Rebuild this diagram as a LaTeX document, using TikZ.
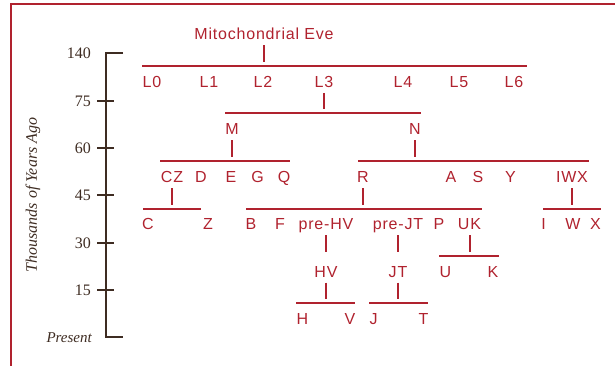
\documentclass[tikz,border=0pt]{standalone}
\usepackage{fontspec}
\usepackage{tikz}
\newfontfamily\labfont[LetterSpace=5]{Liberation Sans}
\newfontfamily\axfont{Liberation Serif}
\definecolor{evered}{RGB}{176,34,46}
\definecolor{axbrown}{RGB}{62,44,34}
\tikzset{%
    lab/.style={text=evered,inner sep=0pt,anchor=base,font=\labfont\fontsize{16}{16}\selectfont}
}

\begin{document}
\begin{tikzpicture}[
        x=1pt,y=-1pt,
        bar/.style={draw=evered,line width=2pt},
        tick/.style={draw=evered,line width=2pt,shorten <=5.5pt,shorten >=4pt},
        ax/.style={draw=axbrown,line width=1.4pt},
        num/.style={text=axbrown,inner sep=0pt,anchor=east,font=\axfont\fontsize{16}{16}\selectfont}
        ]
        \useasboundingbox (0,0) rectangle (615,366);
        \draw[evered,line width=2.5pt] (615,4) -- (11,4) -- (11,366);

        \draw[ax] (123,53) -- (106,53) -- (106,337) -- (123,337);
        \draw[ax] (97,101) -- (114,101);
        \draw[ax] (97,148) -- (114,148);
        \draw[ax] (97,195) -- (114,195);
        \draw[ax] (97,243) -- (114,243);
        \draw[ax] (97,290) -- (114,290);
        \node[num] (t140) at (91,53) {140};
        \node[num] (t75) at (91,101) {75};
        \node[num] (t60) at (91,148) {60};
        \node[num] (t45) at (91,195) {45};
        \node[num] (t30) at (91,243) {30};
        \node[num] (t15) at (91,290) {15};
        \node[num,font=\axfont\itshape\fontsize{15}{15}\selectfont] (tnow) at (92,338) {Present};
        \node[text=axbrown,rotate=90,font=\axfont\itshape\fontsize{16}{16}\selectfont] (ytitle) at (33,195) {Thousands of Years Ago};

        \node[lab] (Eve) at (264,40) {Mitochondrial Eve};
        \node[lab] (L0) at (152,87.5) {L0};
        \node[lab] (L1) at (209,87.5) {L1};
        \node[lab] (L2) at (263,87.5) {L2};
        \node[lab] (L3) at (324,87.5) {L3};
        \node[lab] (L4) at (403,87.5) {L4};
        \node[lab] (L5) at (459,87.5) {L5};
        \node[lab] (L6) at (514,87.5) {L6};

        \node[lab] (M) at (232,135) {M};
        \node[lab] (N) at (415,135) {N};

        \node[lab] (CZ) at (172,182.5) {CZ};
        \node[lab] (D) at (201,182.5) {D};
        \node[lab] (E) at (231,182.5) {E};
        \node[lab] (G) at (257.5,182.5) {G};
        \node[lab] (Q) at (284,182.5) {Q};
        \node[lab] (R) at (363,182.5) {R};
        \node[lab] (A) at (451,182.5) {A};
        \node[lab] (S) at (478,182.5) {S};
        \node[lab] (Y) at (510.5,182.5) {Y};
        \node[lab] (IWX) at (572,182.5) {IWX};

        \node[lab] (C) at (148,229.5) {C};
        \node[lab] (Z) at (208,229.5) {Z};
        \node[lab] (B) at (251,229.5) {B};
        \node[lab] (F) at (280,229.5) {F};
        \node[lab] (preHV) at (326,229.5) {pre-HV};
        \node[lab] (preJT) at (398,229.5) {pre-JT};
        \node[lab] (P) at (439,229.5) {P};
        \node[lab] (UK) at (469.5,229.5) {UK};
        \node[lab] (I) at (543.5,229.5) {I};
        \node[lab] (W) at (573,229.5) {W};
        \node[lab] (X) at (595.5,229.5) {X};

        \node[lab] (HV) at (326,277) {HV};
        \node[lab] (JT) at (398,277) {JT};
        \node[lab] (U) at (445.5,277) {U};
        \node[lab] (K) at (493,277) {K};

        \node[lab] (H) at (302.5,324) {H};
        \node[lab] (V) at (350,324) {V};
        \node[lab] (J) at (373.5,324) {J};
        \node[lab] (T) at (423.5,324) {T};

        \coordinate (b1w) at (142,66);
        \coordinate (b1e) at (527,66);
        \coordinate (b2w) at (225,113);
        \coordinate (b2e) at (421,113);
        \coordinate (b3w) at (160,161);
        \coordinate (b3e) at (290,161);
        \coordinate (b4w) at (358,161);
        \coordinate (b4e) at (589,161);
        \coordinate (b5w) at (143,208.5);
        \coordinate (b5e) at (201,208.5);
        \coordinate (b6w) at (246,208.5);
        \coordinate (b6e) at (482,208.5);
        \coordinate (b7w) at (543,208.5);
        \coordinate (b7e) at (601,208.5);
        \coordinate (b8w) at (439,256);
        \coordinate (b8e) at (499,256);
        \coordinate (b9w) at (296,303);
        \coordinate (b9e) at (355,303);
        \coordinate (b10w) at (369,303);
        \coordinate (b10e) at (428,303);

        \draw[bar] (b1w) -- (b1e);
        \draw[bar] (b2w) -- (b2e);
        \draw[bar] (b3w) -- (b3e);
        \draw[bar] (b4w) -- (b4e);
        \draw[bar] (b5w) -- (b5e);
        \draw[bar] (b6w) -- (b6e);
        \draw[bar] (b7w) -- (b7e);
        \draw[bar] (b8w) -- (b8e);
        \draw[bar] (b9w) -- (b9e);
        \draw[bar] (b10w) -- (b10e);

        \draw[tick] (Eve.base) -- (Eve.base |- b1w);
        \draw[tick] (L3.base) -- (L3.base |- b2w);
        \draw[tick] (M.base) -- (M.base |- b3w);
        \draw[tick] (N.base) -- (N.base |- b4w);
        \draw[tick] (CZ.base) -- (CZ.base |- b5w);
        \draw[tick] (R.base) -- (R.base |- b6w);
        \draw[tick] (IWX.base) -- (IWX.base |- b7w);
        \draw[tick] (UK.base) -- (UK.base |- b8w);
        \draw[tick] (HV.base) -- (HV.base |- b9w);
        \draw[tick] (JT.base) -- (JT.base |- b10w);
        \draw[tick,shorten >=14pt] (preHV.base) -- (HV.north);
        \draw[tick,shorten >=14pt] (preJT.base) -- (JT.north);
    \end{tikzpicture}
\end{document}
